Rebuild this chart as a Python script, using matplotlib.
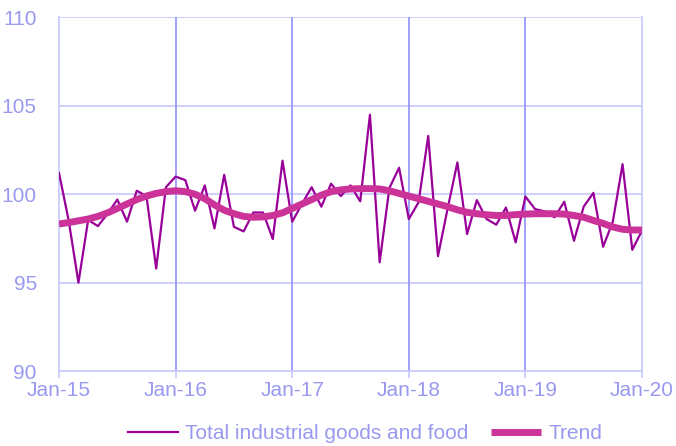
import matplotlib
matplotlib.use("Agg")
import matplotlib.pyplot as plt

tick_labels = ["Jan-15", "Jan-16", "Jan-17", "Jan-18", "Jan-19", "Jan-20"]

total = [101.2, 98.5, 95.0, 98.55, 98.2, 98.9, 99.7, 98.45, 100.2, 99.9,
         95.8, 100.4, 101.0, 100.8, 99.07, 100.5, 98.07, 101.1, 98.16, 97.9,
         98.97, 98.97, 97.47, 101.9, 98.45, 99.45, 100.4, 99.3, 100.6, 99.9,
         100.5, 99.6, 104.5, 96.15, 100.35, 101.5, 98.6, 99.54, 103.3, 96.5,
         99.2, 101.8, 97.75, 99.67, 98.6, 98.28, 99.25, 97.28, 99.87, 99.16,
         99.03, 98.7, 99.58, 97.37, 99.3, 100.08, 97.03, 98.46, 101.7, 96.86,
         97.95]

trend = [98.32, 98.4, 98.5, 98.6, 98.75, 98.95, 99.2, 99.45, 99.7, 99.9,
         100.05, 100.15, 100.2, 100.15, 100.0, 99.75, 99.4, 99.1, 98.9, 98.75,
         98.7, 98.72, 98.8, 98.95, 99.2, 99.45, 99.7, 99.95, 100.15, 100.25,
         100.3, 100.32, 100.32, 100.3, 100.2, 100.05, 99.9, 99.75, 99.6, 99.45,
         99.3, 99.12, 98.98, 98.9, 98.84, 98.8, 98.8, 98.85, 98.88, 98.9,
         98.9, 98.9, 98.88, 98.8, 98.7, 98.52, 98.35, 98.15, 98.02, 97.98,
         97.98]

months = list(range(len(total)))

plt.rcParams['font.family'] = ['Liberation Sans', 'DejaVu Sans']

text_col = "#9999F0"
grid_dark = "#9999FF"
grid_light = "#CCCCFF"

fig = plt.figure(figsize=(6.76, 4.46), dpi=100)
ax = fig.add_axes([0.0873, 0.168, 0.8624, 0.7928])

ax.set_xlim(0, 60)
ax.set_ylim(90, 110)

# grid
for yv in [95, 100, 105, 110]:
    ax.axhline(yv, color=grid_light, lw=1.3, zorder=1)
for xv in [12, 24, 36, 48]:
    ax.axvline(xv, color=grid_dark, lw=1.3, zorder=1)

l1, = ax.plot(months, total, color="#990099", lw=1.6, zorder=3,
              label="Total industrial goods and food")
l2, = ax.plot(months, trend, color="#CC3399", lw=5, zorder=4,
              solid_capstyle="butt", label="Trend")

ax.spines["top"].set_visible(False)
for s in ["left", "bottom", "right"]:
    ax.spines[s].set_color(grid_light)
    ax.spines[s].set_linewidth(1.3)

ax.set_xticks(range(0, 61, 12))
ax.set_xticklabels(tick_labels)
ax.set_yticks([90, 95, 100, 105, 110])
ax.tick_params(axis="x", colors=grid_light, labelcolor=text_col,
               labelsize=15, length=5, width=1.3, pad=2)
ax.tick_params(axis="y", colors=grid_light, labelcolor=text_col,
               labelsize=15, length=1, width=1.3, pad=15)

leg = fig.legend(handles=[l1, l2], loc="center", bbox_to_anchor=(0.54, 0.028),
                 ncol=2, frameon=False, fontsize=15, handlelength=2.4,
                 handletextpad=0.35, columnspacing=1.1)
for t in leg.get_texts():
    t.set_color(text_col)

fig.savefig("out.png", dpi=100)
